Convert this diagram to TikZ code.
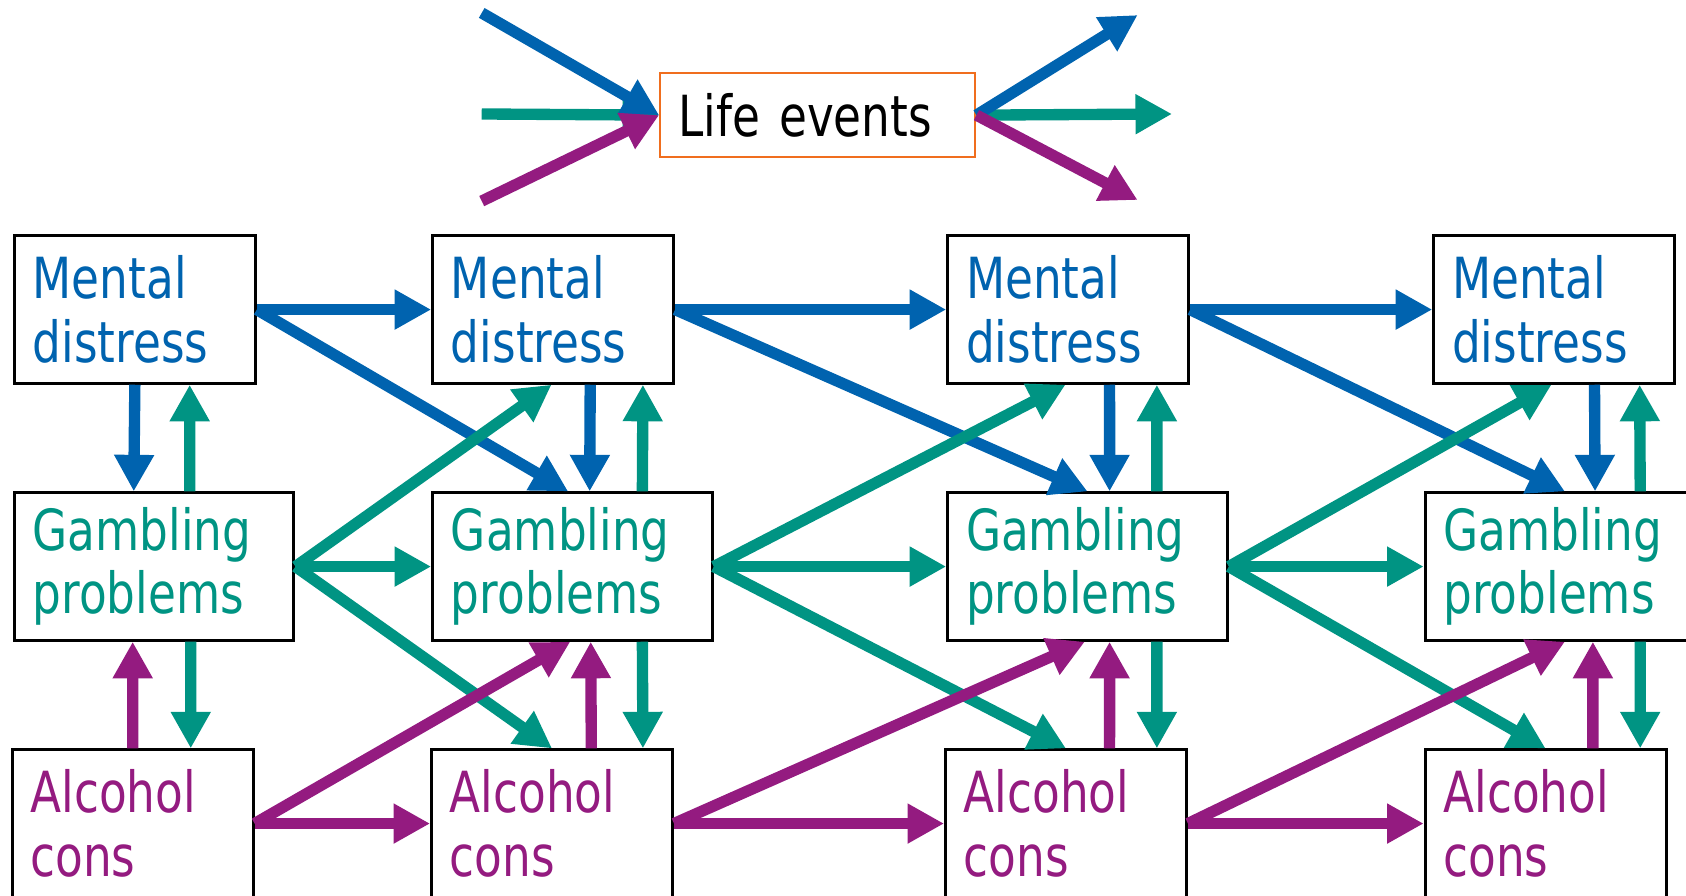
\documentclass[tikz,border=0pt]{standalone}
\usepackage{fontspec}
\setmainfont{DejaVu Sans}[FakeStretch=0.8]
\usetikzlibrary{arrows.meta}
\definecolor{mdblue}{RGB}{0,99,175}
\definecolor{gpteal}{RGB}{0,148,131}
\definecolor{acpurple}{RGB}{148,27,128}
\definecolor{leorange}{RGB}{240,110,30}

\begin{document}
\begin{tikzpicture}[x=1cm, y=1cm,
    box/.style={draw, line width=0.8pt, anchor=north west, align=left, inner xsep=0.17cm, inner ysep=0pt, minimum height=1.37cm, font=\fontsize{15pt}{16.8pt}\selectfont},
    mbox/.style={box, text width=1.9cm, text=mdblue},
    gbox/.style={box, text width=2.26cm, text=gpteal},
    abox/.style={box, text width=1.9cm, text=acpurple},
    cause/.style={line width=3pt, -{Triangle[length=0.34cm, width=0.35cm]}}]

    \useasboundingbox (0,0) rectangle (15.68,8.33);

    % life events box
    \node[box, draw=leorange, line width=0.6pt, text width=2.59cm, minimum height=0.78cm] (life) at (6.13,7.66) {Life events};

    % free ends of the life events arrows
    \coordinate (mdin) at (4.48,8.21);
    \coordinate (gpin) at (4.48,7.27);
    \coordinate (acin) at (4.48,6.46);
    \coordinate (mdout) at (10.58,8.19);
    \coordinate (gpout) at (10.90,7.27);
    \coordinate (acout) at (10.58,6.47);

    % mental distress row
    \node[mbox] (md1) at (0.12,6.15) {Mental\\distress};
    \node[mbox] (md2) at (4.01,6.15) {Mental\\distress};
    \node[mbox] (md3) at (8.80,6.15) {Mental\\distress};
    \node[mbox] (md4) at (13.32,6.15) {Mental\\distress};

    % gambling problems row
    \node[gbox] (gp1) at (0.12,3.76) {Gambling\\problems};
    \node[gbox] (gp2) at (4.01,3.76) {Gambling\\problems};
    \node[gbox] (gp3) at (8.80,3.76) {Gambling\\problems};
    \node[gbox] (gp4) at (13.24,3.76) {Gambling\\problems};

    % alcohol cons row
    \node[abox] (ac1) at (0.10,1.37) {Alcohol\\cons};
    \node[abox] (ac2) at (4.00,1.37) {Alcohol\\cons};
    \node[abox] (ac3) at (8.78,1.37) {Alcohol\\cons};
    \node[abox] (ac4) at (13.24,1.37) {Alcohol\\cons};

    % in and out of life events
    \draw[cause, gpteal] (gpin) -- (life.west);
    \draw[cause, mdblue] (mdin) -- (life.west);
    \draw[cause, acpurple] (acin) -- (life.west);
    \draw[cause, gpteal] (life.east) -- (gpout);
    \draw[cause, mdblue] (life.east) -- (mdout);
    \draw[cause, acpurple] (life.east) -- (acout);

    % mental distress arrows
    \draw[cause, mdblue] (md1.east) -- (md2.west);
    \draw[cause, mdblue] (md2.east) -- (md3.west);
    \draw[cause, mdblue] (md3.east) -- (md4.west);
    \draw[cause, mdblue] (md1.east) -- ([xshift=-0.04cm]gp2.north);
    \draw[cause, mdblue] (md2.east) -- (gp3.north);
    \draw[cause, mdblue] (md3.east) -- (gp4.north);
    \draw[cause, mdblue] (md1.south) -- ([xshift=-0.19cm]gp1.north);
    \draw[cause, mdblue] ([xshift=0.345cm]md2.south) -- ([xshift=0.16cm]gp2.north);
    \draw[cause, mdblue] ([xshift=0.385cm]md3.south) -- ([xshift=0.205cm]gp3.north);
    \draw[cause, mdblue] ([xshift=0.375cm]md4.south) -- ([xshift=0.28cm]gp4.north);

    % gambling problems arrows
    \draw[cause, gpteal] (gp1.east) -- (gp2.west);
    \draw[cause, gpteal] (gp2.east) -- (gp3.west);
    \draw[cause, gpteal] (gp3.east) -- (gp4.west);
    \draw[cause, gpteal] (gp1.east) -- ([xshift=-0.015cm]md2.south);
    \draw[cause, gpteal] (gp2.east) -- ([xshift=-0.025cm]md3.south);
    \draw[cause, gpteal] (gp3.east) -- ([xshift=-0.025cm]md4.south);
    \draw[cause, gpteal] (gp1.east) -- (ac2.north);
    \draw[cause, gpteal] (gp2.east) -- (ac3.north);
    \draw[cause, gpteal] (gp3.east) -- (ac4.north);
    \draw[cause, gpteal] ([xshift=0.33cm]gp1.north) -- ([xshift=0.51cm]md1.south);
    \draw[cause, gpteal] ([xshift=0.65cm]gp2.north) -- ([xshift=0.835cm]md2.south);
    \draw[cause, gpteal] ([xshift=0.645cm]gp3.north) -- ([xshift=0.825cm]md3.south);
    \draw[cause, gpteal] ([xshift=0.70cm]gp4.north) -- ([xshift=0.795cm]md4.south);
    \draw[cause, gpteal] ([xshift=0.34cm]gp1.south) -- ([xshift=0.54cm]ac1.north);
    \draw[cause, gpteal] ([xshift=0.65cm]gp2.south) -- ([xshift=0.845cm]ac2.north);
    \draw[cause, gpteal] ([xshift=0.645cm]gp3.south) -- ([xshift=0.845cm]ac3.north);
    \draw[cause, gpteal] ([xshift=0.70cm]gp4.south) -- ([xshift=0.88cm]ac4.north);

    % alcohol cons arrows
    \draw[cause, acpurple] (ac1.east) -- (ac2.west);
    \draw[cause, acpurple] (ac2.east) -- (ac3.west);
    \draw[cause, acpurple] (ac3.east) -- (ac4.west);
    \draw[cause, acpurple] (ac1.east) -- ([xshift=-0.02cm]gp2.south);
    \draw[cause, acpurple] (ac2.east) -- ([xshift=-0.025cm]gp3.south);
    \draw[cause, acpurple] (ac3.east) -- (gp4.south);
    \draw[cause, acpurple] (ac1.north) -- ([xshift=-0.20cm]gp1.south);
    \draw[cause, acpurple] ([xshift=0.365cm]ac2.north) -- ([xshift=0.17cm]gp2.south);
    \draw[cause, acpurple] ([xshift=0.405cm]ac3.north) -- ([xshift=0.205cm]gp3.south);
    \draw[cause, acpurple] ([xshift=0.44cm]ac4.north) -- ([xshift=0.26cm]gp4.south);

\end{tikzpicture}
\end{document}
